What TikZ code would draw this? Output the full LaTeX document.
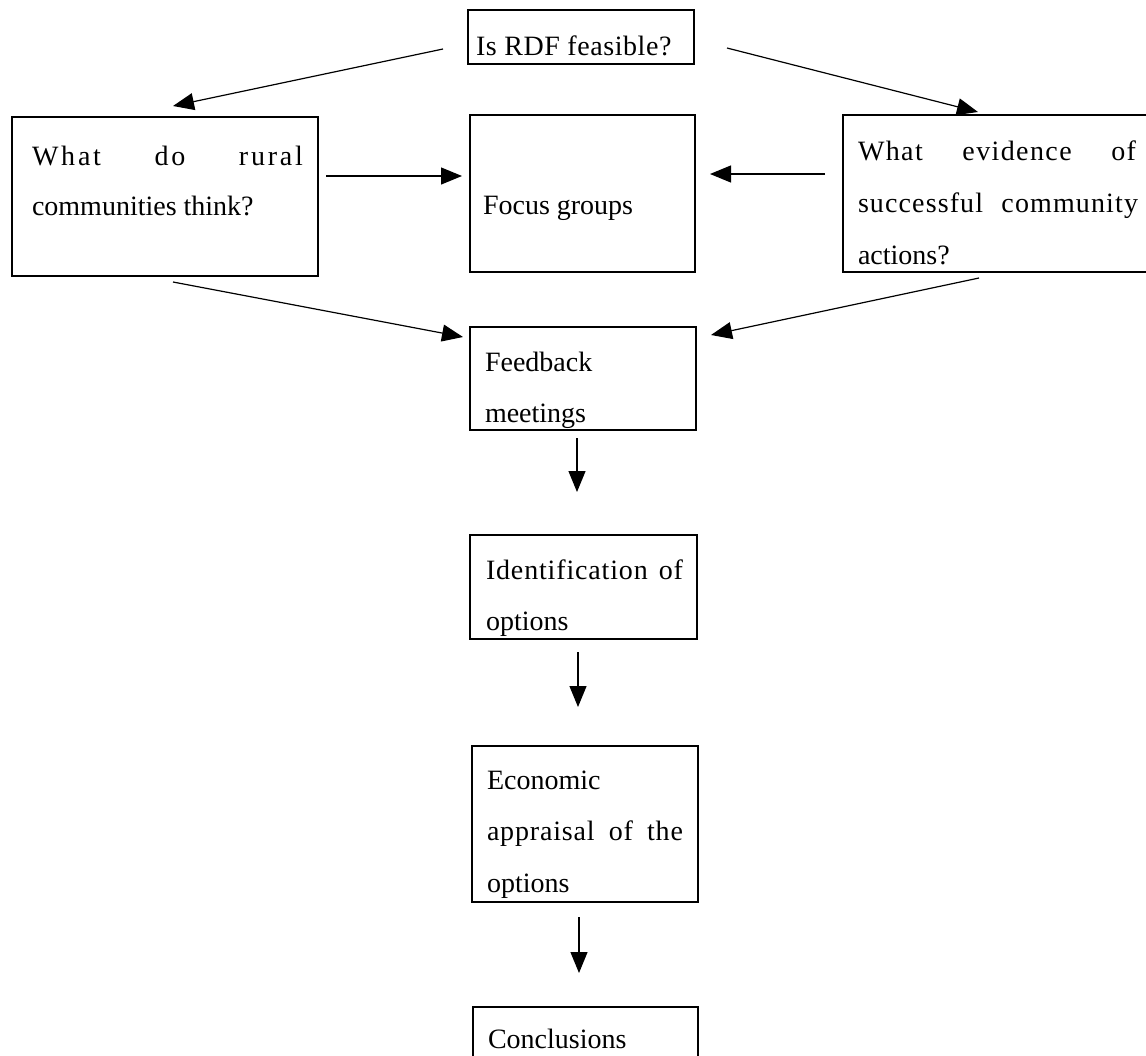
\documentclass[tikz,border=0pt]{standalone}
\usepackage{fontspec}
\setmainfont{Liberation Serif}
\usetikzlibrary{arrows.meta}
\tikzset{
  box/.style={draw, line width=1.1pt, inner sep=0pt, outer sep=0pt, anchor=north west, rectangle},
  txt/.style={anchor=base west, inner sep=0pt, outer sep=0pt, font=\fontsize{28}{28}\selectfont},
  conn/.style={line width=1.2pt, -{Triangle[length=21pt,width=17pt]}}
}
\begin{document}
\begin{tikzpicture}[x=1pt,y=-1pt]
\useasboundingbox (0,0) rectangle (1146,1055);
\clip (0,0) rectangle (1146,1055);
% boxes
\node[box, minimum width=226pt, minimum height=54pt] (top) at (468,10) {};
\node[box, minimum width=306pt, minimum height=159pt] (rural) at (12,117) {};
\node[box, minimum width=225pt, minimum height=157pt] (focus) at (470,115) {};
\node[box, minimum width=330pt, minimum height=157pt] (evid) at (843,115) {};
\node[box, minimum width=226pt, minimum height=103pt] (feed) at (470,327) {};
\node[box, minimum width=227pt, minimum height=104pt] (ident) at (470,535) {};
\node[box, minimum width=226pt, minimum height=156pt] (econ) at (472,746) {};
\node[box, minimum width=225pt, minimum height=90pt] (concl) at (473,1007) {};
% texts
\node[txt] (ttop) at (476,55) {\addfontfeature{LetterSpace=2}Is RDF feasible?};
\node[txt] (tr1) at (32,165) {\makebox[271pt][s]{\addfontfeature{LetterSpace=10}What do rural}};
\node[txt] (tr2) at (32,215) {communities think?};
\node[txt] (tf) at (483,214) {Focus groups};
\node[txt] (te1) at (858,160) {\makebox[278pt][s]{\addfontfeature{LetterSpace=5}What evidence of}};
\node[txt] (te2) at (858,212) {\makebox[280pt][s]{\addfontfeature{LetterSpace=4}successful community}};
\node[txt] (te3) at (858,264) {actions?};
\node[txt] (tfb1) at (485,371) {Feedback};
\node[txt] (tfb2) at (485,422) {meetings};
\node[txt] (ti1) at (486,579) {\makebox[197pt][s]{\addfontfeature{LetterSpace=3}Identification of}};
\node[txt] (ti2) at (486,630) {options};
\node[txt] (tc1) at (487,789) {Economic};
\node[txt] (tc2) at (487,840) {\makebox[196pt][s]{\addfontfeature{LetterSpace=3}appraisal of the}};
\node[txt] (tc3) at (487,892) {options};
\node[txt] (tcc) at (488,1048) {Conclusions};
% connector end points
\coordinate (a1s) at (443,49);  \coordinate (a1e) at (173,106);
\coordinate (a2s) at (727,48);  \coordinate (a2e) at (978,112);
\coordinate (a3s) at (326,176); \coordinate (a3e) at (462,176);
\coordinate (a4s) at (825,174); \coordinate (a4e) at (710,174);
\coordinate (a5s) at (173,282); \coordinate (a5e) at (463,337);
\coordinate (a6s) at (979,278); \coordinate (a6e) at (711,335);
\coordinate (a7s) at (577,438); \coordinate (a7e) at (577,492);
\coordinate (a8s) at (578,652); \coordinate (a8e) at (578,707);
\coordinate (a9s) at (579,917); \coordinate (a9e) at (579,973);
\draw[conn] (a1s) -- (a1e);
\draw[conn] (a2s) -- (a2e);
\draw[conn] (a3s) -- (a3e);
\draw[conn] (a4s) -- (a4e);
\draw[conn] (a5s) -- (a5e);
\draw[conn] (a6s) -- (a6e);
\draw[conn] (a7s) -- (a7e);
\draw[conn] (a8s) -- (a8e);
\draw[conn] (a9s) -- (a9e);
\end{tikzpicture}
\end{document}
